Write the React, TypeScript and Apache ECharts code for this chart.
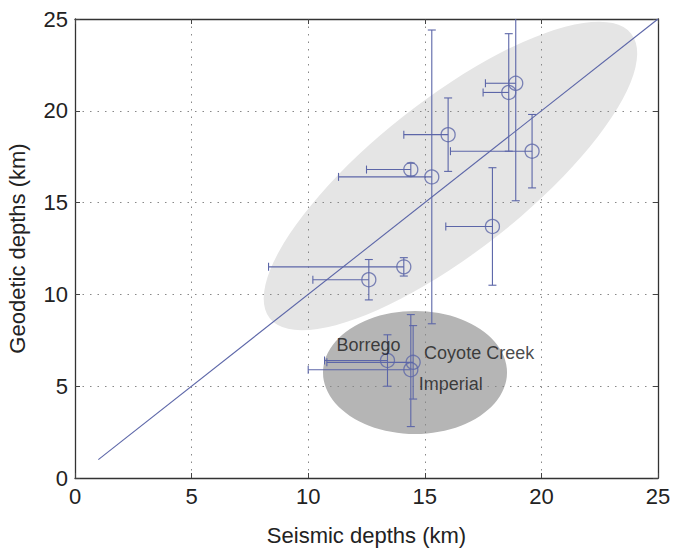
import React, { useEffect, useRef } from "react";
import * as echarts from "echarts";

// Seismic (x) vs geodetic (y) depths, km
const seismic = [18.9, 18.6, 16.0, 19.6, 14.4, 15.3, 17.9, 14.1, 12.6, 13.4, 14.5, 14.4];
const geodetic = [21.5, 21.0, 18.7, 17.8, 16.8, 16.4, 13.7, 11.5, 10.8, 6.4, 6.3, 5.9];
const seismicLow = [17.6, 17.5, 14.1, 16.1, 12.5, 11.3, 15.9, 8.3, 10.2, 10.7, 10.8, 10.0];
const geodeticLow = [15.1, 17.8, 16.7, 15.8, 16.45, 8.4, 10.5, 11.0, 9.7, 5.0, 4.3, 2.8];
const geodeticHigh = [26.5, 24.2, 20.7, 19.8, 17.15, 24.4, 16.9, 12.0, 11.9, 7.8, 8.3, 8.9];
const pointNames = ["", "", "", "", "", "", "", "", "", "Borrego", "Coyote Creek", "Imperial"];

// 1:1 reference line
const oneToOne = [[1, 1], [25, 25]];

// cluster ellipse centres (data units)
const clusterCentres = [[16.1, 16.45], [14.58, 5.75]];

const xTicks = [0, 5, 10, 15, 20, 25];

const BLUE = "#5c66a8";
const FONT = "Liberation Sans, Arial, Helvetica, sans-serif";

const labelStyle: Record<string, any> = {
  Borrego: { offset: [-19, -15] },
  "Coyote Creek": { offset: [66, -9] },
  Imperial: { offset: [40, 14] },
};

export default function App() {
  const ref = useRef<HTMLDivElement>(null);
  useEffect(() => {
    if (!ref.current) return;
    const chart = echarts.init(ref.current, null, { renderer: "svg" });

    const errorData = seismic.map((x, i) => [x, geodetic[i], seismicLow[i], geodeticLow[i], geodeticHigh[i]]);
    const scatterData = seismic.map((x, i) => {
      const name = pointNames[i];
      const item: any = { value: [x, geodetic[i]], name };
      if (name) {
        item.label = {
          show: true,
          formatter: name,
          position: "inside",
          align: "center",
          verticalAlign: "middle",
          offset: labelStyle[name].offset,
          fontSize: 18,
          color: "#1a1a1a",
          fontFamily: FONT,
        };
      }
      return item;
    });

    const axisLine = { show: true, onZero: false, lineStyle: { color: "#333", width: 1.3 } };
    const axisTick = { show: true, inside: true, length: 5, lineStyle: { color: "#444" } };
    const splitLine = { show: true, lineStyle: { type: [1.5, 6], color: "#888", width: 1 } };
    const axisLabel = { fontSize: 22, color: "#222", fontFamily: FONT, margin: 7 };

    chart.setOption({
      animation: false,
      grid: { left: 75, right: 15, top: 19, bottom: 70, outerBoundsMode: "none", containLabel: false },
      xAxis: [
        {
          type: "value", min: xTicks[0], max: xTicks[xTicks.length - 1], interval: 5, position: "bottom",
          axisLine, axisTick, axisLabel, splitLine,
          name: "Seismic depths (km)", nameLocation: "middle", nameGap: 46,
          nameTextStyle: { fontSize: 22, color: "#222", fontFamily: FONT },
        },
        {
          type: "value", min: 0, max: 25, interval: 5, position: "top",
          axisLine, axisTick, axisLabel: { show: false }, splitLine: { show: false },
        },
      ],
      yAxis: [
        {
          type: "value", min: 0, max: 25, interval: 5, position: "left",
          axisLine, axisTick, axisLabel, splitLine,
          name: "Geodetic depths (km)", nameLocation: "middle", nameGap: 47,
          nameTextStyle: { fontSize: 22, color: "#222", fontFamily: FONT },
        },
        {
          type: "value", min: 0, max: 25, interval: 5, position: "right",
          axisLine, axisTick, axisLabel: { show: false }, splitLine: { show: false },
        },
      ],
      series: [
        {
          type: "custom",
          z: -1,
          silent: true,
          data: clusterCentres,
          renderItem: (params: any, api: any) => {
            const c = api.coord([api.value(0), api.value(1)]);
            if (params.dataIndex === 0) {
              const p0 = api.coord([0, 0]);
              const p1 = api.coord([25, 25]);
              const ang = Math.atan2(p0[1] - p1[1], p1[0] - p0[0]);
              const a = 230, b = 76;
              return {
                type: "circle",
                x: c[0], y: c[1], scaleX: a / b, scaleY: 1, rotation: ang,
                shape: { cx: 0, cy: 0, r: b },
                style: { fill: "#e5e5e5" },
              };
            }
            const a = 92, b = 61.5;
            return {
              type: "circle",
              x: c[0], y: c[1], scaleX: a / b, scaleY: 1,
              shape: { cx: 0, cy: 0, r: b },
              style: { fill: "#b5b5b5" },
            };
          },
        },
        {
          type: "line",
          data: oneToOne,
          showSymbol: false,
          silent: true,
          lineStyle: { color: BLUE, width: 1.1 },
          z: 3,
        },
        {
          type: "custom",
          silent: true,
          z: 4,
          data: errorData,
          encode: { x: 0, y: 1 },
          renderItem: (params: any, api: any) => {
            const x = api.value(0), y = api.value(1), xl = api.value(2), yl = api.value(3), yhRaw = api.value(4);
            const yh = Math.min(yhRaw, 25);
            const c = api.coord([x, y]);
            const pl = api.coord([xl, y]);
            const pb = api.coord([x, yl]);
            const pt = api.coord([x, yh]);
            const st = { stroke: BLUE, lineWidth: 1.1 };
            const cap = 4;
            const children: any[] = [
              { type: "line", shape: { x1: pl[0], y1: c[1], x2: c[0], y2: c[1] }, style: st },
              { type: "line", shape: { x1: pl[0], y1: c[1] - cap, x2: pl[0], y2: c[1] + cap }, style: st },
              { type: "line", shape: { x1: c[0], y1: pb[1], x2: c[0], y2: pt[1] }, style: st },
              { type: "line", shape: { x1: c[0] - cap, y1: pb[1], x2: c[0] + cap, y2: pb[1] }, style: st },
            ];
            if (yhRaw <= 25) {
              children.push({ type: "line", shape: { x1: c[0] - cap, y1: pt[1], x2: c[0] + cap, y2: pt[1] }, style: st });
            }
            return { type: "group", children };
          },
        },
        {
          type: "scatter",
          z: 5,
          data: scatterData,
          symbol: "circle",
          symbolSize: 14,
          itemStyle: { color: "rgba(0,0,0,0)", borderColor: BLUE, borderWidth: 1.3 },
        },
      ],
    });
    return () => chart.dispose();
  }, []);
  return (
    <div
      ref={ref}
      style={{ position: "fixed", left: 0, top: 0, width: 673, height: 548, background: "#fff" }}
    />
  );
}
